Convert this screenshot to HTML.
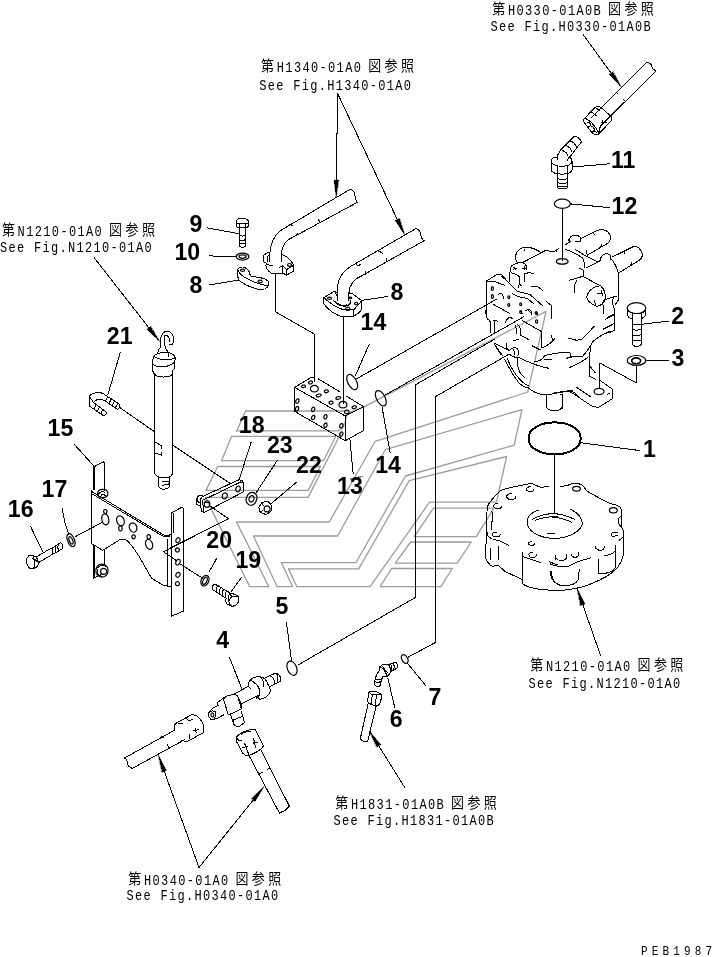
<!DOCTYPE html>
<html lang="ja"><head><meta charset="utf-8"><title>PEB1987</title>
<style>
html,body{margin:0;padding:0;background:#fff;}
body{width:712px;height:957px;overflow:hidden;position:relative;}
svg{display:block;position:absolute;left:0;top:0;will-change:transform;}
.n{font-family:"Liberation Sans",sans-serif;fill:#000;}
.r{font-family:"Liberation Mono","Noto Sans CJK JP",monospace;font-size:12px;fill:#000;}
.c{font-size:13px;}
.p{font-family:"Liberation Mono",monospace;font-size:11px;fill:#000;}
path,ellipse{stroke-linecap:round;stroke-linejoin:round;}
</style></head>
<body>
<svg width="712" height="957" viewBox="0 0 712 957" shape-rendering="crispEdges">
<!-- 05_watermark.py -->
<path d="M236.7,430.9 H337.5 C343,430.5 345.5,424 346,418 C347,414 349,412.5 352,411.5 L363.9,406.9 L400,388.2 L546,311.4 L527.8,392 L375.2,441.3 L329.2,522 H236.5 L268.8,586.7 H249.8 L205.4,497.4 H308.1 L341,433" fill="none" stroke="#9c9c9c" stroke-width="1.3" shape-rendering="geometricPrecision"/>
<path d="M236.7,430.9 L245.5,411 H347" fill="none" stroke="#9c9c9c" stroke-width="1.3" shape-rendering="geometricPrecision"/>
<path d="M231.6,436.3 H335.8 L323.4,460.7 H221.5 Z" fill="none" stroke="#9c9c9c" stroke-width="1.3" shape-rendering="geometricPrecision"/>
<path d="M217.7,466.5 H320.4 L308.2,490.4 H206 Z" fill="none" stroke="#9c9c9c" stroke-width="1.3" shape-rendering="geometricPrecision"/>
<path d="M385.3,449.7 L521.9,409.7 L514.2,445.2 L405.5,476 L355.9,562.7 H281.5 L292.7,586.7 H277.2 L253.4,536 H337.6 Z" fill="none" stroke="#9c9c9c" stroke-width="1.3" shape-rendering="geometricPrecision"/>
<path d="M409.3,480.6 L506.6,456.5 L496.5,502.2 H429.5 L370.1,586.7 H296.9 L288.5,568.9 H358.7 Z" fill="none" stroke="#9c9c9c" stroke-width="1.3" shape-rendering="geometricPrecision"/>
<path d="M433.5,508.1 H494 L476.3,536.6 H414.3 Z" fill="none" stroke="#9c9c9c" stroke-width="1.3" shape-rendering="geometricPrecision"/>
<path d="M410.6,542 H471.2 L457.3,563.2 H395.4 Z" fill="none" stroke="#9c9c9c" stroke-width="1.3" shape-rendering="geometricPrecision"/>
<path d="M391.6,568.5 H452.3 L440.9,586.7 H380.2 Z" fill="none" stroke="#9c9c9c" stroke-width="1.3" shape-rendering="geometricPrecision"/>
<path d="M350.6,479 L361.8,476.6" fill="none" stroke="#8a8aa8" stroke-width="1.6" />
<!-- 10_topright.py -->
<path d="M646.5,62.6L601.2,107.6" fill="none" stroke="#000" stroke-width="1" />
<path d="M655.7,71.1L610.7,116.0" fill="none" stroke="#000" stroke-width="1" />
<path d="M646.5,62.6C650.1,62.9 651.5,64.0 651.9,66.6C652.3,69.0 654.0,69.9 655.7,71.1" fill="none" stroke="#000" stroke-width="1" />
<path d="M616.3,92.4L617.5,93.8" fill="none" stroke="#000" stroke-width="1" />
<path d="M623.4,99.4L624.5,100.8" fill="none" stroke="#000" stroke-width="1" />
<path d="M601.2,107.6L610.7,116.0C612.1,117.4 612.1,119.5 611.0,120.9L598.8,134.0C596.7,135.7 593.2,134.3 591.1,131.5L584.0,122.3C582.9,120.6 583.3,119.5 584.3,118.5L595.3,107.3C597.0,105.9 598.8,105.9 601.2,107.6" fill="none" stroke="#000" stroke-width="1" />
<path d="M601.2,107.6L591.1,118.1M595.3,107.3L599.8,110.7M591.1,111.8L596.7,116.0M595.3,113.9L595.3,116.0" fill="none" stroke="#000" stroke-width="1" />
<path d="M610.7,116.0L600.2,126.5M602.3,120.2L602.3,124.4M601.2,122.3L606.8,122.3M600.2,126.5L598.8,134.0" fill="none" stroke="#000" stroke-width="1" />
<path d="M584.3,118.8C585.7,118.5 588.3,119.5 591.1,122.3C594.6,125.8 598.1,130.1 598.8,134.0" fill="none" stroke="#000" stroke-width="1" />
<path d="M586.9,123.0C588.0,121.6 590.4,123.0 591.1,125.1M589.0,126.5C590.4,125.1 593.2,126.5 594.2,128.7C595.3,130.8 593.9,132.2 592.5,131.5M592.5,131.5C593.2,130.1 595.3,130.8 596.7,132.9" fill="none" stroke="#000" stroke-width="1" />
<path d="M583.3,34.8L619.9,85.3" fill="none" stroke="#000" stroke-width="1"/>
<path d="M621.1,86.9L609.3,74.5L613,71.8Z" fill="#000" stroke="#000" stroke-width="0.5"/>
<path d="M574.7,136.0C577.2,136.8 580.2,139.3 581.4,141.9L570.4,156.2M574.7,136.0L560.3,150.3C557.8,153.7 557.0,156.2 557.0,159.6" fill="none" stroke="#000" stroke-width="1" />
<path d="M570.1,141.0C573.0,141.9 575.2,143.9 576.3,146.6M565.7,145.6C568.4,146.4 570.8,148.6 571.8,151.1M562.0,150.3C564.6,151.1 566.7,152.8 567.9,155.3" fill="none" stroke="#000" stroke-width="1" />
<path d="M570.4,156.2C568.4,157.0 567.4,158.7 567.9,161.2" fill="none" stroke="#000" stroke-width="1" />
<path d="M557.0,157.0C553.6,157.4 551.1,159.0 551.1,161.2L551.1,169.7C551.1,172.2 555.3,174.2 562.0,174.2C567.9,174.2 572.1,172.2 572.1,169.7L572.1,161.2C572.1,159.0 570.4,157.4 568.4,157.0" fill="none" stroke="#000" stroke-width="1" />
<path d="M551.1,161.2C551.1,164.1 555.3,166.3 562.0,166.3C567.9,166.3 572.1,164.1 572.1,161.2" fill="none" stroke="#000" stroke-width="1" />
<path d="M557.8,166.0L557.8,173.9M567.9,165.4L567.9,173.4" fill="none" stroke="#000" stroke-width="1" />
<path d="M557.0,173.9L557.0,186.5C557.0,188.2 559.5,189.0 562.4,189.0C565.4,189.0 567.9,188.2 567.9,186.5L567.9,173.5" fill="none" stroke="#000" stroke-width="1" />
<path d="M557.0,178.1C559.5,179.8 565.4,179.8 567.9,178.1M557.0,182.3C559.5,184.0 565.4,184.0 567.9,182.3M557.0,185.7C559.5,187.4 565.4,187.4 567.9,185.7" fill="none" stroke="#000" stroke-width="1" />
<path d="M572.1,167.1L609.2,163.8" fill="none" stroke="#000" stroke-width="1"/>
<path d="M570.3,203.7A7.9,4.6 0 1 0 554.4,203.7A7.9,4.6 0 1 0 570.3,203.7Z" fill="none" stroke="#000" stroke-width="1.2" shape-rendering="geometricPrecision"/>
<path d="M570.4,203.9L609.2,207.6" fill="none" stroke="#000" stroke-width="1"/>
<path d="M562.4,208.4L562.4,261" fill="none" stroke="#000" stroke-width="1"/>
<!-- 20_motor.py -->
<path d="M568.1,261.4A5.9,2.8 0 1 0 556.3,261.4A5.9,2.8 0 1 0 568.1,261.4Z" fill="none" stroke="#000" stroke-width="1.2" shape-rendering="geometricPrecision"/>
<path d="M517.2,262.1C514.4,257.9 515.1,253.0 520.7,248.1L528.5,247.4C533.4,248.1 537.6,250.2 540.4,252.3M524.9,248.8L524.2,250.9" fill="none" stroke="#000" stroke-width="1" />
<path d="M522.1,262.8L546.0,250.2L553.0,252.0L558.7,248.8M555.1,250.2L557.0,251.6" fill="none" stroke="#000" stroke-width="1" />
<path d="M510.2,268.5C511.6,264.2 517.9,262.1 522.1,262.8C525.6,263.5 527.1,265.6 526.3,269.2M510.2,268.5L509.5,281.8M513.7,267.1L515.8,269.9M513.0,269.2L516.8,268.5M522.1,268.5L525.6,268.5M524.7,266.3L524.7,269.4" fill="none" stroke="#000" stroke-width="1" />
<path d="M511.6,272.7L518.6,275.5L520.0,279.0L518.6,287.4M519.3,283.9L521.4,286.0" fill="none" stroke="#000" stroke-width="1" />
<path d="M524.2,281.8L524.2,274.1L528.5,272.7L533.4,273.4M531.3,286.0L537.6,286.7L542.5,290.2" fill="none" stroke="#000" stroke-width="1" />
<path d="M486.3,281.1L497.6,274.1L501.8,274.8L505.3,278.3M486.3,281.1L486.3,316.9L488.4,320.0M486.3,281.1L495.4,281.8L504.6,285.3" fill="none" stroke="#000" stroke-width="1" />
<path d="M501.8,276.2L517.9,291.6L529.9,294.4L542.5,305.7M512.3,293.7L517.9,296.5L527.8,298.7L533.4,303.6M546.0,301.2L551.6,305.7L551.6,318.3" fill="none" stroke="#000" stroke-width="1" />
<path d="M493.3,288.5A1,1.4 0 1 0 491.4,288.5A1,1.4 0 1 0 493.3,288.5Z" fill="none" stroke="#000" stroke-width="1.2" shape-rendering="geometricPrecision"/>
<path d="M493.3,296.5A1,1.4 0 1 0 491.4,296.5A1,1.4 0 1 0 493.3,296.5Z" fill="none" stroke="#000" stroke-width="1.2" shape-rendering="geometricPrecision"/>
<path d="M509.8,297.2A1,1.4 0 1 0 507.8,297.2A1,1.4 0 1 0 509.8,297.2Z" fill="none" stroke="#000" stroke-width="1.2" shape-rendering="geometricPrecision"/>
<path d="M509.8,305A1,1.4 0 1 0 507.8,305A1,1.4 0 1 0 509.8,305Z" fill="none" stroke="#000" stroke-width="1.2" shape-rendering="geometricPrecision"/>
<path d="M521.7,304.3A1,1.4 0 1 0 519.7,304.3A1,1.4 0 1 0 521.7,304.3Z" fill="none" stroke="#000" stroke-width="1.2" shape-rendering="geometricPrecision"/>
<path d="M521.7,312A1,1.4 0 1 0 519.7,312A1,1.4 0 1 0 521.7,312Z" fill="none" stroke="#000" stroke-width="1.2" shape-rendering="geometricPrecision"/>
<path d="M537.2,313A1,1.4 0 1 0 535.2,313A1,1.4 0 1 0 537.2,313Z" fill="none" stroke="#000" stroke-width="1.2" shape-rendering="geometricPrecision"/>
<path d="M498.3,294.4C500.4,292.3 503.9,293.7 503.2,298.7M525.6,311.0C528.5,308.5 532.0,309.9 531.3,314.4M507.4,318.3C508.8,316.9 510.9,316.9 512.3,318.3" fill="none" stroke="#000" stroke-width="1" />
<path d="M493.3,304.3L509.5,313.4" fill="none" stroke="#000" stroke-width="1" />
<path d="M581.1,238.3L597.2,230.5C602.1,228.4 607.8,229.8 610.3,235.4C611.3,239.0 609.9,241.8 607.1,243.6L587.4,255.1M593.7,233.3L595.1,235.2M601.4,244.6L600.7,246.7M586.0,250.2L587.4,255.1L588.1,256.8" fill="none" stroke="#000" stroke-width="1" />
<path d="M569.1,241.1C568.4,237.6 571.9,234.7 576.2,235.2C579.7,235.7 581.3,238.3 580.8,241.8M565.6,244.6L570.5,241.1M568.4,239.7L570.1,243.2M575.4,241.1L580.8,241.8" fill="none" stroke="#000" stroke-width="1" />
<path d="M565.6,249.5C571.2,250.9 576.9,254.4 582.5,257.9L584.2,262.1L584.2,267.8M575.4,249.5L583.2,254.4L596.5,261.4" fill="none" stroke="#000" stroke-width="1" />
<path d="M612.0,257.2L633.0,246.7C637.2,245.3 640.8,248.8 642.2,253.7C642.6,256.8 640.8,259.3 638.7,260.7L619.0,272.7M623.9,251.6L624.9,253.4M631.6,262.8L630.9,264.9" fill="none" stroke="#000" stroke-width="1" />
<path d="M586.7,267.8L600.0,260.7C600.7,256.5 603.5,253.7 607.1,253.7C609.9,254.0 611.3,255.8 610.8,259.3L612.7,260.7C615.5,264.9 617.6,268.5 618.3,272.7L618.3,300.1L615.5,304.3" fill="none" stroke="#000" stroke-width="1" />
<path d="M579.7,268.5L583.2,269.9L583.2,276.2L569.1,280.4M582.5,276.2L600.7,286.0M576.9,280.4C574.7,283.2 574.0,287.4 574.3,292.3" fill="none" stroke="#000" stroke-width="1" />
<path d="M600.7,286.0C595.1,285.3 588.1,290.2 586.7,297.2C587.4,300.8 591.6,304.3 597.2,306.4L602.1,304.3C604.9,301.5 606.3,297.2 604.9,293.0C604.2,289.5 602.8,287.4 600.7,286.0M597.2,293.0L602.1,293.7M601.4,290.9L602.8,295.8M594.4,300.8L595.8,305.0" fill="none" stroke="#000" stroke-width="1" />
<path d="M602.1,304.3L604.2,300.1L614.1,296.5L616.9,296.5M614.1,296.5C612.0,300.1 612.0,304.3 614.1,307.8L614.8,313.4L606.3,318.3M603.5,305.7L603.5,313.4M614.8,313.4L614.8,320.0" fill="none" stroke="#000" stroke-width="1" />
<path d="M485.6,310.0L486.3,317.0L490.5,321.9L490.5,332.5M494.0,320.5L494.0,333.9M494.0,320.5L497.6,321.2M505.3,322.6C506.0,318.4 509.5,317.0 512.3,318.4" fill="none" stroke="#000" stroke-width="1" />
<path d="M520.0,310.7L522.1,313.5M527.8,310.0L532.0,313.5M535.5,312.1L537.6,314.2" fill="none" stroke="#000" stroke-width="1" />
<path d="M537.7,321.5A1.1,1.7 0 1 0 535.5,321.5A1.1,1.7 0 1 0 537.7,321.5Z" fill="none" stroke="#000" stroke-width="1.2" shape-rendering="geometricPrecision"/>
<path d="M522.1,320.5L541.8,331.8L541.8,347.9M551.6,310.0L551.6,318.4" fill="none" stroke="#000" stroke-width="1" />
<path d="M517.2,324.0C520.0,326.9 521.4,331.1 520.7,334.6M515.1,325.4C516.8,328.3 517.2,331.1 516.8,333.2M520.0,335.3L524.9,337.4L528.5,339.5M513.7,340.2L518.6,339.8" fill="none" stroke="#000" stroke-width="1" />
<path d="M532.0,345.8L540.4,350.0M541.8,347.9C547.4,345.8 551.6,343.0 555.1,338.1M551.6,335.3L552.3,340.2" fill="none" stroke="#000" stroke-width="1" />
<path d="M494.0,343.0L509.5,350.7M494.0,343.7L501.1,354.9M495.4,345.8L502.5,355.6" fill="none" stroke="#000" stroke-width="1" />
<path d="M506.7,343.7C505.3,346.5 506.7,349.3 509.5,350.7C510.9,347.9 515.1,346.5 517.2,348.6C518.6,350.7 518.6,353.5 517.9,355.6M513.0,349.3C514.4,351.4 514.8,353.5 514.4,354.9" fill="none" stroke="#000" stroke-width="1" />
<path d="M509.5,354.2C512.3,357.1 515.1,357.8 517.9,357.1L517.9,366.2C518.6,370.4 520.7,374.6 524.2,377.4M517.9,357.1C524.9,360.6 536.2,366.2 548.8,368.3" fill="none" stroke="#000" stroke-width="1" />
<path d="M504.6,359.2C508.1,366.2 513.7,376.0 517.9,381.6C520.7,385.1 524.9,387.2 528.5,387.9M507.4,358.5C510.2,366.2 515.1,374.6 520.7,380.2C523.5,383.0 526.3,385.1 528.5,385.8" fill="none" stroke="#000" stroke-width="1" />
<path d="M528.5,387.9C533.4,392.9 539.0,394.3 546.0,395.0L569.9,390.8C572.7,391.2 576.9,394.3 580.0,397.8M554.4,392.9L572.7,390.1" fill="none" stroke="#000" stroke-width="1" />
<path d="M534.1,362.0C539.0,361.3 543.2,359.2 544.6,355.6C553.0,353.5 564.3,352.1 569.9,352.8L571.3,356.3L566.4,358.5M544.6,359.2L551.6,359.2" fill="none" stroke="#000" stroke-width="1" />
<path d="M603.5,310.0L603.5,313.5M614.8,310.0L614.8,329.7L612.0,331.8L606.3,333.2M605.6,319.1L614.1,314.9M603.5,329.0L614.8,323.3" fill="none" stroke="#000" stroke-width="1" />
<path d="M594.4,326.2C589.5,331.1 585.3,336.7 581.1,339.5L576.2,340.2L568.4,338.1" fill="none" stroke="#000" stroke-width="1" />
<path d="M610.6,331.1C603.5,333.9 596.5,338.1 593.0,341.6C590.2,346.5 586.7,352.1 582.5,356.3L570.5,357.1" fill="none" stroke="#000" stroke-width="1" />
<path d="M569.1,367.6C576.9,364.8 583.9,360.6 588.1,357.1M590.9,346.5L589.2,356.3L589.2,376.0L595.8,379.5M589.8,366.2L595.1,372.5" fill="none" stroke="#000" stroke-width="1" />
<path d="M645.8,308.1A9.3,5.4 0 1 0 627.2,308.1A9.3,5.4 0 1 0 645.8,308.1Z" fill="none" stroke="#000" stroke-width="1.2" shape-rendering="geometricPrecision"/>
<path d="M627.2,308.1L627.2,315.2C629.0,317.8 631.6,319.1 632.9,319.1M645.8,308.1L645.8,315.2C644.6,317.1 642.6,318.2 641.3,318.7M632.9,313.0L641.3,313.0M632.9,313.0L632.9,319.1M641.3,313.0L641.3,318.7M627.2,309.4C629.0,312.0 631.6,313.0 632.9,313.0M641.3,313.0C643.3,312.6 644.8,311.3 645.8,309.4" fill="none" stroke="#000" stroke-width="1" />
<path d="M632.5,319.1L632.5,344.3C633.6,347.1 640.0,347.1 641.3,344.3L641.3,318.7" fill="none" stroke="#000" stroke-width="1" />
<path d="M632.5,323.9C634.2,325.4 639.4,325.4 641.3,323.9" fill="none" stroke="#000" stroke-width="1" />
<path d="M632.5,329.0C634.2,330.6 639.4,330.6 641.3,329.0" fill="none" stroke="#000" stroke-width="1" />
<path d="M632.5,334.6C634.2,336.1 639.4,336.1 641.3,334.6" fill="none" stroke="#000" stroke-width="1" />
<path d="M632.5,339.7C634.2,341.3 639.4,341.3 641.3,339.7" fill="none" stroke="#000" stroke-width="1" />
<path d="M642,324.2L669.1,321" fill="none" stroke="#000" stroke-width="1"/>
<path d="M645.8,360.4A9.3,4.9 0 1 0 627.2,360.4A9.3,4.9 0 1 0 645.8,360.4Z" fill="none" stroke="#000" stroke-width="1.2" shape-rendering="geometricPrecision"/>
<path d="M640.5,360.8A4.4,2.5 0 1 0 631.8,360.8A4.4,2.5 0 1 0 640.5,360.8Z" fill="none" stroke="#000" stroke-width="1.6" shape-rendering="geometricPrecision"/>
<path d="M645.8,360.4L669.1,360.8" fill="none" stroke="#000" stroke-width="1"/>
<path d="M636.5,365.5L636.5,383.0L600.0,363.1L599.3,387.2" fill="none" stroke="#000" stroke-width="1" />
<path d="M600.7,380.9L612.7,389.4L612.7,398.5L599.3,406.9C596.5,407.6 593.7,406.9 590.9,405.5L573.3,393.6L569.1,391.2L560.0,392.2M560.0,394.3L562.8,394.3L562.8,408.3M576.2,387.2L590.2,396.4M607.1,394.3L609.9,392.9" fill="none" stroke="#000" stroke-width="1" />
<path d="M604,391.5A4.9,3.1 0 1 0 594.1,391.5A4.9,3.1 0 1 0 604,391.5Z" fill="none" stroke="#000" stroke-width="1.2" shape-rendering="geometricPrecision"/>
<!-- 25_gear.py -->
<path d="M546.2,394.6L546.2,406.4C548.2,412.3 560.0,412.3 562.5,406.4L562.5,394.6" fill="none" stroke="#000" stroke-width="1" />
<path d="M580.6,438.4A26,15.1 0 1 0 528.7,438.4A26,15.1 0 1 0 580.6,438.4Z" fill="none" stroke="#000" stroke-width="2"/>
<path d="M581,442.8L640,450.6" fill="none" stroke="#000" stroke-width="1"/>
<path d="M554.6,454.5L554.6,513.2" fill="none" stroke="#000" stroke-width="1"/>
<path d="M487.1,507.0C489.8,501.1 496.3,494.6 500.2,490.7C508.0,487.4 521.1,485.4 530.2,483.5C534.2,483.5 536.8,486.1 540.7,487.4L548.5,486.5" fill="none" stroke="#000" stroke-width="1" />
<path d="M487.1,507.0L486.5,536.4L485.2,556.0C485.8,559.9 489.1,565.1 492.4,566.4L497.6,565.1C500.2,566.4 502.8,569.7 505.4,571.7L522.4,579.5" fill="none" stroke="#000" stroke-width="1" />
<path d="M522.4,552.7L522.4,583.4C526.3,587.3 536.8,589.9 557.9,590.6M522.4,556.6L540.7,562.5M549.8,561.9L557.9,565.1M550.5,571.0C550.5,578.2 552.5,582.1 557.9,584.1M555.7,555.3L555.7,559.9" fill="none" stroke="#000" stroke-width="1" />
<path d="M533.9,489.1C533.9,490.4 532.2,491.5 530.2,491.5C528.3,491.5 526.6,490.4 526.6,489.1C526.6,487.8 528.3,486.8 530.2,486.8" fill="none" stroke="#000" stroke-width="1" />
<path d="M515.9,496.6C515.9,498.1 513.9,499.4 511.3,499.4C508.7,499.4 506.7,498.1 506.7,496.6C506.7,495.0 508.7,493.7 511.3,493.7" fill="none" stroke="#000" stroke-width="1" />
<path d="M501.5,506.1C501.5,507.5 499.8,508.7 497.6,508.7C495.4,508.7 493.7,507.5 493.7,506.1C493.7,504.6 495.4,503.5 497.6,503.5" fill="none" stroke="#000" stroke-width="1" />
<path d="M500.2,534.4C500.2,535.7 498.5,536.8 496.3,536.8C494.1,536.8 492.4,535.7 492.4,534.4C492.4,533.1 494.1,532.1 496.3,532.1" fill="none" stroke="#000" stroke-width="1" />
<path d="M534.4,543.6C534.4,544.6 533.1,545.4 531.6,545.4C530.0,545.4 528.7,544.6 528.7,543.6C528.7,542.5 530.0,541.7 531.6,541.7" fill="none" stroke="#000" stroke-width="1" />
<path d="M536.3,554.9C536.3,556.4 534.6,557.5 532.6,557.5C530.6,557.5 528.9,556.4 528.9,554.9C528.9,553.5 530.6,552.3 532.6,552.3" fill="none" stroke="#000" stroke-width="1" />
<path d="M491.1,510.9C493.0,512.9 493.0,515.5 492.4,518.1L491.1,529.9M487.8,532.5C487.1,535.1 488.4,537.7 491.1,538.3M493.7,539.7L498.9,540.3L508.7,545.5M490.4,548.1L490.4,559.9M498.9,546.2L498.2,559.9" fill="none" stroke="#000" stroke-width="1" />
<path d="M538.1,510.3C530.2,512.9 526.3,518.1 527.6,524.6C528.9,529.9 535.5,535.1 545.9,537.7L557.9,539.0M532.2,519.4C538.1,515.5 548.5,513.5 557.9,513.1M535.5,520.1C542.0,517.5 551.1,516.5 557.9,516.5M547.2,533.1L553.8,533.1" fill="none" stroke="#000" stroke-width="1" />
<path d="M560.4,486.5L567.0,485.7C570.9,482.8 578.7,482.8 582.7,485.4C584.6,488.1 585.9,490.7 589.2,492.6L608.8,503.1C612.7,504.4 617.9,504.4 620.5,507.7C621.8,510.3 622.5,512.9 621.2,515.5C617.9,518.1 617.3,520.7 619.2,524.6C621.8,527.2 624.5,529.9 623.8,533.8L623.1,539.0L623.1,556.0C621.8,563.8 615.3,570.4 611.4,573.0C604.9,578.2 593.1,583.4 581.3,587.3C570.9,589.9 560.4,591.0 550.0,590.6" fill="none" stroke="#000" stroke-width="1" />
<path d="M621.2,515.5L621.8,525.9M619.2,540.3L623.1,537.0" fill="none" stroke="#000" stroke-width="1" />
<path d="M580.4,488.7A3.9,2.4 0 1 0 572.6,488.7A3.9,2.4 0 1 0 580.4,488.7Z" fill="none" stroke="#000" stroke-width="1.2" shape-rendering="geometricPrecision"/>
<path d="M617.3,510.3A3.9,2.6 0 1 0 609.4,510.3A3.9,2.6 0 1 0 617.3,510.3Z" fill="none" stroke="#000" stroke-width="1.2" shape-rendering="geometricPrecision"/>
<path d="M595.1,546.6C595.7,549.5 599.0,550.8 601.6,550.1C603.6,549.5 604.9,547.9 604.2,546.2" fill="none" stroke="#000" stroke-width="1" />
<path d="M571.2,554.0C571.6,556.6 574.2,557.9 576.1,557.3C578.1,556.6 579.0,554.7 578.1,552.7" fill="none" stroke="#000" stroke-width="1" />
<path d="M555.2,556.0C555.9,559.2 559.1,560.9 562.4,560.6C565.7,559.9 567.6,557.3 566.7,554.0" fill="none" stroke="#000" stroke-width="1" />
<path d="M570.2,509.2C576.1,511.6 581.3,516.8 582.4,523.3C581.3,529.9 573.5,535.7 560.4,538.0L550.0,538.7M550.0,513.5C559.1,513.5 568.3,516.1 574.8,519.4M550.0,516.8C557.8,517.1 565.7,519.4 571.6,522.3M550.0,533.1L554.6,533.1" fill="none" stroke="#000" stroke-width="1" />
<path d="M611.4,533.1L617.9,532.5M611.4,533.1L612.0,536.4L617.9,535.7" fill="none" stroke="#000" stroke-width="1" />
<path d="M550.0,563.8C555.2,566.4 563.1,567.7 568.3,566.4C573.5,563.8 577.4,561.2 581.3,560.6L590.5,557.9" fill="none" stroke="#000" stroke-width="1" />
<path d="M551.3,571.0C551.3,578.2 553.9,583.4 560.4,585.4C568.3,586.0 576.1,584.7 578.1,579.5L579.4,569.0" fill="none" stroke="#000" stroke-width="1" />
<path d="M598.3,559.9L598.3,573.0C602.2,574.3 608.8,573.0 612.7,571.0L615.3,567.7L615.3,545.5M604.2,556.0C608.8,555.3 612.7,553.4 614.7,551.4" fill="none" stroke="#000" stroke-width="1" />
<path d="M600.6,655.7L577.9,590.7" fill="none" stroke="#000" stroke-width="1"/>
<path d="M577.2,588.8L585,604.1L580.6,605.6Z" fill="#000" stroke="#000" stroke-width="0.5"/>
<!-- 30_pipes.py -->
<path d="M236.2,221.8C236.9,219.0 240.4,218.0 243.3,218.3C246.8,218.5 248.6,220.4 248.6,222.5L248.6,226.0C247.5,227.4 246.1,227.8 245.4,227.8L239.0,227.8C237.6,227.4 236.5,226.7 236.2,226.0ZM239.0,223.9L239.0,227.8M245.4,223.9L245.4,227.8M239.0,223.9L245.4,223.9M236.2,222.2C237.6,223.6 238.3,223.9 239.0,223.9M245.4,223.9C246.8,223.6 247.8,223.2 248.6,222.5" fill="none" stroke="#000" stroke-width="1" />
<path d="M239.0,227.8L239.0,245.6C240.4,247.8 244.7,247.8 245.8,245.6L245.8,227.8" fill="none" stroke="#000" stroke-width="1" />
<path d="M239.0,235.1C240.4,236.4 244.7,236.4 245.8,235.1" fill="none" stroke="#000" stroke-width="1" />
<path d="M239.0,239.3C240.4,240.6 244.7,240.6 245.8,239.3" fill="none" stroke="#000" stroke-width="1" />
<path d="M239.0,242.8C240.4,244.1 244.7,244.1 245.8,242.8" fill="none" stroke="#000" stroke-width="1" />
<path d="M207,227.9L239,233.7" fill="none" stroke="#000" stroke-width="1"/>
<path d="M248.9,256.6A6.3,3.5 0 1 0 236.2,256.6A6.3,3.5 0 1 0 248.9,256.6Z" fill="none" stroke="#000" stroke-width="1.2" shape-rendering="geometricPrecision"/>
<path d="M246.1,256.6A3.5,1.7 0 1 0 239,256.6A3.5,1.7 0 1 0 246.1,256.6Z" fill="none" stroke="#000" stroke-width="1.2" shape-rendering="geometricPrecision"/>
<path d="M209.3,255.9L236.2,256.6" fill="none" stroke="#000" stroke-width="1"/>
<path d="M237.6,270.2C238.3,268.1 241.2,266.7 244.0,267.1C247.5,268.8 249.6,270.9 250.3,275.8C254.5,277.2 261.5,277.2 265.7,279.4L268.5,281.5L268.5,285.7C267.1,288.5 262.9,289.9 259.4,289.6C251.7,287.8 243.3,284.3 239.0,280.1L237.6,276.5Z" fill="none" stroke="#000" stroke-width="1" />
<path d="M238.3,270.9C240.4,276.5 253.1,282.9 267.8,286.0M247.5,269.5L249.6,272.3L250.3,275.8" fill="none" stroke="#000" stroke-width="1" />
<path d="M244.7,270.2A2.1,1.1 0 1 0 240.4,270.2A2.1,1.1 0 1 0 244.7,270.2Z" fill="none" stroke="#000" stroke-width="1.2" shape-rendering="geometricPrecision"/>
<path d="M262.2,281.5A2.1,1.4 0 1 0 258,281.5A2.1,1.4 0 1 0 262.2,281.5Z" fill="none" stroke="#000" stroke-width="1.2" shape-rendering="geometricPrecision"/>
<path d="M209.3,285L238.3,280.1" fill="none" stroke="#000" stroke-width="1"/>
<path d="M350.0,189.3L281.2,230.2C274.2,235.1 269.9,244.9 269.9,253.4L269.9,261.8" fill="none" stroke="#000" stroke-width="1" />
<path d="M357.2,202.4L293.8,236.8C286.8,239.3 281.9,244.9 281.2,254.1L281.2,261.8" fill="none" stroke="#000" stroke-width="1" />
<path d="M350.0,189.3C353.5,190.2 354.9,193.0 354.9,195.8C354.9,199.3 356.3,201.1 357.2,202.4" fill="none" stroke="#000" stroke-width="1" />
<path d="M289.6,224.6L292.4,225.3L291.0,223.9M296.6,234.4L298.0,233.7M318.4,219.7C319.8,221.1 319.8,222.5 318.8,223.6" fill="none" stroke="#000" stroke-width="1" />
<path d="M263.6,255.5L267.8,252.2L269.9,252.7M263.6,255.5L263.6,261.8L266.4,263.2M267.8,256.2L269.9,254.1M267.8,256.2L267.8,261.8" fill="none" stroke="#000" stroke-width="1" />
<path d="M266.4,263.2C265.0,266.0 266.4,270.2 271.3,273.0L282.6,273.0M282.6,266.0L282.6,273.0L286.8,275.1L293.8,270.9L293.8,265.3C291.0,260.4 286.8,256.2 282.6,254.8M279.1,267.4L282.6,266.0M286.8,269.5L286.8,275.1M286.8,269.5L293.8,265.3M282.6,266.0L286.8,269.5M267.1,263.9C268.5,265.3 269.9,265.7 272.1,265.7" fill="none" stroke="#000" stroke-width="1" />
<path d="M291.7,264.9A2.1,1.4 0 1 0 287.5,264.9A2.1,1.4 0 1 0 291.7,264.9Z" fill="none" stroke="#000" stroke-width="1.2" shape-rendering="geometricPrecision"/>
<path d="M275.3,273.0L275.3,311.7L314.5,334.1L314.5,381.2" fill="none" stroke="#000" stroke-width="1" />
<path d="M415.9,228.6L356.2,263.2C346.3,268.1 337.9,276.5 337.6,287.8L337.6,300.4" fill="none" stroke="#000" stroke-width="1" />
<path d="M424.3,240.6L361.8,275.8C353.4,279.3 349.2,284.9 348.9,293.4L348.9,300.4" fill="none" stroke="#000" stroke-width="1" />
<path d="M415.9,228.6C419.4,229.5 420.8,232.3 420.8,235.1C421.1,237.9 422.9,240.0 424.3,240.6" fill="none" stroke="#000" stroke-width="1" />
<path d="M356.2,263.2L357.6,266.0L360.4,264.6M378.7,251.2C380.8,251.9 382.2,252.6 382.9,254.0M386.4,258.3L386.4,261.8M365.3,271.6L365.3,274.4" fill="none" stroke="#000" stroke-width="1" />
<path d="M323.9,297.6L334.4,291.3L336.8,292.2M348.9,293.1L352.0,293.4L361.8,300.7L361.8,306.7L361.1,310.2M323.9,297.6L323.9,303.9C328.1,310.2 336.5,315.8 343.5,317.0L353.4,316.5L357.6,313.7L361.1,310.2" fill="none" stroke="#000" stroke-width="1" />
<path d="M323.9,297.6C325.3,299.0 326.7,300.4 328.1,301.1C333.7,306.0 340.7,309.5 346.3,309.9L354.1,309.5L361.8,300.7M354.1,309.5L353.4,316.5" fill="none" stroke="#000" stroke-width="1" />
<path d="M333.7,300.4C335.1,303.9 340.7,306.7 346.3,306.0C349.2,305.3 351.3,303.2 350.6,300.4M335.8,301.8C337.9,304.3 342.1,305.7 346.3,304.9M335.1,292.7L336.8,295.5" fill="none" stroke="#000" stroke-width="1" />
<path d="M331.5,298.3A2,1.1 0 1 0 327.5,298.3A2,1.1 0 1 0 331.5,298.3Z" fill="none" stroke="#000" stroke-width="1.2" shape-rendering="geometricPrecision"/>
<path d="M349.7,308.8A2,1.4 0 1 0 345.8,308.8A2,1.4 0 1 0 349.7,308.8Z" fill="none" stroke="#000" stroke-width="1.2" shape-rendering="geometricPrecision"/>
<path d="M357.9,303.5A1.7,1.1 0 1 0 354.5,303.5A1.7,1.1 0 1 0 357.9,303.5Z" fill="none" stroke="#000" stroke-width="1.2" shape-rendering="geometricPrecision"/>
<path d="M351.7,297.9A1.4,0.8 0 1 0 348.9,297.9A1.4,0.8 0 1 0 351.7,297.9Z" fill="none" stroke="#000" stroke-width="1.2" shape-rendering="geometricPrecision"/>
<path d="M361.8,300.4L387.8,296.5" fill="none" stroke="#000" stroke-width="1"/>
<path d="M343.8,317.0L343.8,403.6" fill="none" stroke="#000" stroke-width="1" />
<path d="M337.6,93.5L336.1,195.2" fill="none" stroke="#000" stroke-width="1"/>
<path d="M336.1,197.2L334,180.2L338.6,180.2Z" fill="#000" stroke="#000" stroke-width="0.5"/>
<path d="M337.6,93.5L403.7,233" fill="none" stroke="#000" stroke-width="1"/>
<path d="M404.6,234.8L395.2,220.4L399.4,218.5Z" fill="#000" stroke="#000" stroke-width="0.5"/>
<!-- 40_block.py -->
<path d="M294.6,387.4L310.5,377.9L313.6,377.4M318.2,378.9L339.8,391.8M346.0,395.9L363.8,406.8M294.6,387.4L345.3,416.0L363.8,406.8" fill="none" stroke="#000" stroke-width="1" />
<path d="M294.6,387.4L294.6,411.4L345.3,440.7L345.3,416.0M363.8,406.8L363.8,430.4L345.3,440.7" fill="none" stroke="#000" stroke-width="1" />
<path d="M318.2,388.7A3.9,2.8 0 1 0 310.5,388.7A3.9,2.8 0 1 0 318.2,388.7Z" fill="none" stroke="#000" stroke-width="1.2" shape-rendering="geometricPrecision"/>
<path d="M346.8,404.7A3.9,2.8 0 1 0 339.1,404.7A3.9,2.8 0 1 0 346.8,404.7Z" fill="none" stroke="#000" stroke-width="1.2" shape-rendering="geometricPrecision"/>
<path d="M305.5,385.8A2,1.2 -15 1 0 301.6,386.9A2,1.2 -15 1 0 305.5,385.8Z" fill="none" stroke="#000" stroke-width="1.2" shape-rendering="geometricPrecision"/>
<path d="M312.4,382A2,1.2 -15 1 0 308.6,383A2,1.2 -15 1 0 312.4,382Z" fill="none" stroke="#000" stroke-width="1.2" shape-rendering="geometricPrecision"/>
<path d="M328.3,390.8A2,1.2 -15 1 0 324.5,391.8A2,1.2 -15 1 0 328.3,390.8Z" fill="none" stroke="#000" stroke-width="1.2" shape-rendering="geometricPrecision"/>
<path d="M321.1,394.8A2.5,1.2 -15 1 0 316.3,396.1A2.5,1.2 -15 1 0 321.1,394.8Z" fill="none" stroke="#000" stroke-width="1.2" shape-rendering="geometricPrecision"/>
<path d="M340.7,397.3A2.5,1.2 -15 1 0 335.9,398.6A2.5,1.2 -15 1 0 340.7,397.3Z" fill="none" stroke="#000" stroke-width="1.2" shape-rendering="geometricPrecision"/>
<path d="M333,402.1A2,1.5 -15 1 0 329.1,403.1A2,1.5 -15 1 0 333,402.1Z" fill="none" stroke="#000" stroke-width="1.2" shape-rendering="geometricPrecision"/>
<path d="M356.3,406.7A2.2,1.2 -15 1 0 352.1,407.8A2.2,1.2 -15 1 0 356.3,406.7Z" fill="none" stroke="#000" stroke-width="1.2" shape-rendering="geometricPrecision"/>
<path d="M348.9,411.3A2.2,1.5 -15 1 0 344.7,412.4A2.2,1.5 -15 1 0 348.9,411.3Z" fill="none" stroke="#000" stroke-width="1.2" shape-rendering="geometricPrecision"/>
<path d="M298.8,401.6A1.5,2.2 20 1 0 295.9,400.5A1.5,2.2 20 1 0 298.8,401.6Z" fill="none" stroke="#000" stroke-width="1.2" shape-rendering="geometricPrecision"/>
<path d="M298.5,409.3A1.5,2.2 20 1 0 295.6,408.2A1.5,2.2 20 1 0 298.5,409.3Z" fill="none" stroke="#000" stroke-width="1.2" shape-rendering="geometricPrecision"/>
<path d="M314.6,409.9A1.5,2.2 20 1 0 311.7,408.9A1.5,2.2 20 1 0 314.6,409.9Z" fill="none" stroke="#000" stroke-width="1.2" shape-rendering="geometricPrecision"/>
<path d="M314.6,418.1A1.5,2.2 20 1 0 311.7,417A1.5,2.2 20 1 0 314.6,418.1Z" fill="none" stroke="#000" stroke-width="1.2" shape-rendering="geometricPrecision"/>
<path d="M326.9,417.3A1.5,2.2 20 1 0 324,416.3A1.5,2.2 20 1 0 326.9,417.3Z" fill="none" stroke="#000" stroke-width="1.2" shape-rendering="geometricPrecision"/>
<path d="M326.9,425.8A1.5,2.2 20 1 0 324,424.8A1.5,2.2 20 1 0 326.9,425.8Z" fill="none" stroke="#000" stroke-width="1.2" shape-rendering="geometricPrecision"/>
<path d="M342.8,426.3A1.5,2.2 20 1 0 339.9,425.2A1.5,2.2 20 1 0 342.8,426.3Z" fill="none" stroke="#000" stroke-width="1.2" shape-rendering="geometricPrecision"/>
<path d="M342.8,434.6A1.5,2.2 20 1 0 339.9,433.6A1.5,2.2 20 1 0 342.8,434.6Z" fill="none" stroke="#000" stroke-width="1.2" shape-rendering="geometricPrecision"/>
<path d="M356,380A4.3,8.3 -28 1 0 348.4,384.1A4.3,8.3 -28 1 0 356,380Z" fill="none" stroke="#000" stroke-width="1.2" shape-rendering="geometricPrecision"/>
<path d="M384.6,396.2A4.3,8.3 -28 1 0 377,400.3A4.3,8.3 -28 1 0 384.6,396.2Z" fill="none" stroke="#000" stroke-width="1.2" shape-rendering="geometricPrecision"/>
<path d="M355.3,375.9L369.2,344.2" fill="none" stroke="#000" stroke-width="1"/>
<path d="M382,406.8L390.1,452.3" fill="none" stroke="#000" stroke-width="1"/>
<path d="M349.9,439.2L353.1,473.2" fill="none" stroke="#000" stroke-width="1"/>
<path d="M356.7,378.8L496.9,299.0" fill="none" stroke="#000" stroke-width="1" />
<path d="M385.3,395.0L523.9,316.7" fill="none" stroke="#000" stroke-width="1" />
<path d="M494.4,339.3L415.3,384.9L415.3,597.5L297.8,665.1" fill="none" stroke="#000" stroke-width="1" />
<path d="M509.1,354.1L435.4,396.7L435.4,642.5L408.3,657.1" fill="none" stroke="#000" stroke-width="1" />
<!-- 50_cyl.py -->
<path d="M160.6,341.9C160.1,335.2 163.4,331.0 167.6,331.0C171.9,331.5 174.4,336.0 173.5,341.9C172.7,344.4 171.0,345.3 169.3,344.9M164.3,336.0C166.8,334.3 170.2,336.9 169.3,341.1M164.3,336.0L165.1,347.8M160.6,341.9L160.6,347.0C158.4,349.5 157.5,351.2 157.5,353.7M165.1,347.8C167.6,350.3 168.5,352.9 168.5,356.2" fill="none" stroke="#000" stroke-width="1" />
<path d="M154.2,356.2C155.8,352.9 164.3,352.0 169.3,352.9C173.5,353.7 175.2,356.2 175.2,359.6L174.4,362.1C175.2,365.5 174.4,368.9 172.7,370.6L172.7,373.9M154.2,356.2C152.5,358.8 152.1,361.3 152.8,363.8C151.6,367.2 152.1,370.6 154.2,373.9M152.8,363.8C155.8,368.0 169.3,368.0 174.4,362.1M154.2,373.9C157.5,378.1 169.3,378.1 172.7,373.9M154.2,356.2C157.5,360.4 171.0,360.4 175.2,357.9" fill="none" stroke="#000" stroke-width="1" />
<path d="M94.1,257.6L158.1,339.6" fill="none" stroke="#000" stroke-width="1"/>
<path d="M159.3,341.2L147,329.2L150.7,326.4Z" fill="#000" stroke="#000" stroke-width="0.5"/>
<path d="M89.3,396.7C90.1,393.3 96.9,391.6 102.8,393.3L107.8,396.7L119.6,404.3C120.4,406.0 119.6,408.5 117.1,409.3L105.3,400.9C100.2,398.4 96.0,399.2 93.5,402.6L106.1,411.9C107.0,413.5 105.3,415.7 102.8,415.2L89.3,406.0Z" fill="none" stroke="#000" stroke-width="1" />
<path d="M107.8,396.7L105.3,400.9M111.2,399.2L109.0,403.4M114.6,401.2L112.4,405.6M117.9,403.4L115.4,407.6M96.0,405.1L94.3,408.5M99.4,407.3L97.7,411.0M102.8,409.3L101.1,413.5M89.3,396.7C91.0,398.4 92.6,400.6 93.5,402.6" fill="none" stroke="#000" stroke-width="1" />
<path d="M120.4,352L107.8,395" fill="none" stroke="#000" stroke-width="1"/>
<path d="M154.7,373.9L154.7,473.4C155.6,475.5 157.8,476.9 159.2,477.3M172.8,373.9L172.8,472.7C171.8,475.5 170.4,476.9 169.0,477.3" fill="none" stroke="#000" stroke-width="1" />
<path d="M158.5,477.3L158.5,486.0C159.9,490.2 167.6,490.2 169.7,486.0L169.7,477.3M158.5,477.3L169.7,477.3M162.7,481.8L169.0,481.1M162.7,485.3L169.0,483.9" fill="none" stroke="#000" stroke-width="1" />
<path d="M154.7,441.8L162.0,446.0L161.7,448.1M154.7,453.0L161.3,455.1L161.7,452.3" fill="none" stroke="#000" stroke-width="1" />
<path d="M119.8,407.6L154.7,431.9M172.8,445.3L230.8,483.9" fill="none" stroke="#000" stroke-width="1" />
<!-- 60_bracket.py -->
<path d="M93.8,466.9L103.3,461.8L104.4,462.6L104.4,490.4M93.8,466.9L93.8,489.6" fill="none" stroke="#000" stroke-width="1" />
<path d="M94.8,467.4L94.8,490.1" fill="none" stroke="#000" stroke-width="1" />
<path d="M74.1,444.1L93.8,466" fill="none" stroke="#000" stroke-width="1"/>
<path d="M107.8,493.5A5.1,3.7 0 1 0 97.7,493.5A5.1,3.7 0 1 0 107.8,493.5Z" fill="none" stroke="#000" stroke-width="1.2" shape-rendering="geometricPrecision"/>
<path d="M98.5,494.2C99.4,492.1 101.9,491.3 104.4,492.1M101.1,495.5C101.9,494.2 104.4,494.2 105.3,495.8" fill="none" stroke="#000" stroke-width="1" />
<path d="M91.5,490.4L92.6,492.1L162.6,534.3C166.0,536.3 169.3,536.0 171.9,533.4M91.5,493.5L160.9,535.1C164.3,536.8 167.6,536.8 170.2,536.0" fill="none" stroke="#000" stroke-width="1" />
<path d="M91.5,490.4L91.5,543.5L102.8,550.3L120.4,539.3L125.5,539.3C130.6,542.7 135.6,551.1 140.0,557.9L151.6,578.4L164.3,585.7L171.9,586.5" fill="none" stroke="#000" stroke-width="1" />
<path d="M171.9,512.4L182.0,507.3L183.1,508.1M171.9,512.4L171.9,533.4M173.0,513.2L173.0,532.6" fill="none" stroke="#000" stroke-width="1" />
<path d="M108.6,518.9A3.4,4.7 -10 1 0 102,520A3.4,4.7 -10 1 0 108.6,518.9Z" fill="none" stroke="#000" stroke-width="1.2" shape-rendering="geometricPrecision"/>
<path d="M107,511.5A1.7,2 0 1 0 103.6,511.5A1.7,2 0 1 0 107,511.5Z" fill="none" stroke="#000" stroke-width="1.2" shape-rendering="geometricPrecision"/>
<path d="M123.9,519.5A3.7,4.7 -20 1 0 117,522.1A3.7,4.7 -20 1 0 123.9,519.5Z" fill="none" stroke="#000" stroke-width="1.2" shape-rendering="geometricPrecision"/>
<path d="M122.1,528.4A1.7,2 0 1 0 118.8,528.4A1.7,2 0 1 0 122.1,528.4Z" fill="none" stroke="#000" stroke-width="1.2" shape-rendering="geometricPrecision"/>
<path d="M136.6,526.3A3.7,4.7 -20 1 0 129.6,528.8A3.7,4.7 -20 1 0 136.6,526.3Z" fill="none" stroke="#000" stroke-width="1.2" shape-rendering="geometricPrecision"/>
<path d="M135.3,536.8A1.7,2 0 1 0 131.9,536.8A1.7,2 0 1 0 135.3,536.8Z" fill="none" stroke="#000" stroke-width="1.2" shape-rendering="geometricPrecision"/>
<path d="M152.3,543.2A3.4,5.1 -20 1 0 145.9,545.5A3.4,5.1 -20 1 0 152.3,543.2Z" fill="none" stroke="#000" stroke-width="1.2" shape-rendering="geometricPrecision"/>
<path d="M150.4,536.8A1.7,1.7 0 1 0 147.1,536.8A1.7,1.7 0 1 0 150.4,536.8Z" fill="none" stroke="#000" stroke-width="1.2" shape-rendering="geometricPrecision"/>
<path d="M74.9,536.8L101.9,522.5" fill="none" stroke="#000" stroke-width="1"/>
<path d="M93.5,544.4L93.5,578.1L101.1,574.8M104.5,550.3L104.5,565.5" fill="none" stroke="#000" stroke-width="1" />
<path d="M94.6,545.3L94.6,577.3" fill="none" stroke="#000" stroke-width="1" />
<path d="M108,570.6A6.1,5.7 0 1 0 95.9,570.6A6.1,5.7 0 1 0 108,570.6Z" fill="none" stroke="#000" stroke-width="1.2" shape-rendering="geometricPrecision"/>
<path d="M106.7,571.4A3,3 0 1 0 100.6,571.4A3,3 0 1 0 106.7,571.4Z" fill="none" stroke="#000" stroke-width="1.2" shape-rendering="geometricPrecision"/>
<path d="M96.9,568.0L101.1,565.2L106.2,566.3M96.9,568.0L97.4,573.9L101.1,576.5" fill="none" stroke="#000" stroke-width="1" />
<path d="M26.3,558.7L28.8,555.8L32.6,555.2L36.4,557.0L38.5,562.1L37.7,566.3L33.9,568.4L30.1,568.7L27.2,565.4ZM32.6,555.2C33.9,557.9 34.7,560.4 34.3,563.8L33.9,568.4M36.4,557.0L35.6,560.4L38.5,562.1M32.6,558.7L35.6,560.4" fill="none" stroke="#000" stroke-width="1" />
<path d="M36.9,556.6L49.1,549.4L53.7,547.1L59.6,543.1M39.4,562.1L52.9,554.1L62.1,549.0" fill="none" stroke="#000" stroke-width="1" />
<path d="M59.6,543.1C61.3,542.3 62.8,544.0 62.8,546.5C62.8,548.2 62.6,548.8 62.1,549.0" fill="none" stroke="#000" stroke-width="1" />
<path d="M53.7,547.1C52.4,548.6 52.0,551.1 53.0,553.7M56.2,545.6C55.2,547.1 55.0,549.4 55.8,551.8M58.8,544.0C57.8,545.4 57.5,547.9 58.3,550.3" fill="none" stroke="#000" stroke-width="1" />
<path d="M30.5,526.3L42.8,552" fill="none" stroke="#000" stroke-width="1"/>
<path d="M74.1,538.9A3.4,5.7 -22 1 0 67.9,541.4A3.4,5.7 -22 1 0 74.1,538.9Z" fill="none" stroke="#000" stroke-width="1.2" shape-rendering="geometricPrecision"/>
<path d="M72.5,539.7A1.7,3.4 -22 1 0 69.4,541A1.7,3.4 -22 1 0 72.5,539.7Z" fill="none" stroke="#000" stroke-width="1.2" shape-rendering="geometricPrecision"/>
<path d="M65.5,525L68.9,534.3" fill="none" stroke="#000" stroke-width="1"/>
<path d="M62.1,508.1L65.5,525" fill="none" stroke="#000" stroke-width="1"/>
<path d="M183.8,508.2L183.8,611.0L171.7,616.1L171.7,533.1" fill="none" stroke="#000" stroke-width="1" />
<path d="M167.8,539.4L167.8,585.7" fill="none" stroke="#000" stroke-width="1" />
<path d="M179.7,541.2A2,2.5 30 1 0 176.2,539.2A2,2.5 30 1 0 179.7,541.2Z" fill="none" stroke="#000" stroke-width="1.2" shape-rendering="geometricPrecision"/>
<path d="M179.2,551A2,2 30 1 0 175.7,549A2,2 30 1 0 179.2,551Z" fill="none" stroke="#000" stroke-width="1.2" shape-rendering="geometricPrecision"/>
<path d="M179.7,563.1A2,3 30 1 0 176.2,561.1A2,3 30 1 0 179.7,563.1Z" fill="none" stroke="#000" stroke-width="1.2" shape-rendering="geometricPrecision"/>
<path d="M179.7,575.8A2,2.5 30 1 0 176.2,573.8A2,2.5 30 1 0 179.7,575.8Z" fill="none" stroke="#000" stroke-width="1.2" shape-rendering="geometricPrecision"/>
<path d="M179.2,584.7A2,2 30 1 0 175.7,582.7A2,2 30 1 0 179.2,584.7Z" fill="none" stroke="#000" stroke-width="1.2" shape-rendering="geometricPrecision"/>
<path d="M163.3,551.7L228.5,518.8L209.6,505.7" fill="none" stroke="#000" stroke-width="1" />
<path d="M163.3,551.7L176.2,560.4M180.4,564.2L202.4,578.1" fill="none" stroke="#000" stroke-width="1" />
<path d="M216.7,558.4L209.4,571.4" fill="none" stroke="#000" stroke-width="1"/>
<path d="M208.4,582.2A3.8,5.5 25 1 0 201.5,579A3.8,5.5 25 1 0 208.4,582.2Z" fill="none" stroke="#000" stroke-width="1.2" shape-rendering="geometricPrecision"/>
<path d="M206.6,581.5A1.9,3 25 1 0 203.3,580A1.9,3 25 1 0 206.6,581.5Z" fill="none" stroke="#000" stroke-width="1.2" shape-rendering="geometricPrecision"/>
<path d="M215.6,584.4L230.4,593.2M212.3,589.4L226.2,598.3M215.6,584.4C214.0,583.7 212.3,585.6 212.3,587.8L212.3,589.4" fill="none" stroke="#000" stroke-width="1" />
<path d="M218.2,585.6C216.5,586.9 215.6,589.4 216.5,591.5M221.1,587.8C219.6,588.8 218.8,591.1 219.4,593.2M224.1,589.6C222.6,590.7 221.8,593.2 222.4,595.3M227.0,591.3C225.5,592.4 224.9,594.9 225.3,597.0" fill="none" stroke="#000" stroke-width="1" />
<path d="M226.2,598.3C225.3,600.4 225.8,602.5 227.4,604.2L232.1,606.7L236.7,604.6L238.8,601.2L238.7,596.6L235.4,594.5L230.4,593.2M230.4,593.2C228.7,594.5 227.9,597.9 228.7,601.2C229.1,602.9 230.4,605.4 232.1,606.7M230.4,593.2L231.4,597.0L228.7,601.2M231.4,597.0L238.7,596.6" fill="none" stroke="#000" stroke-width="1" />
<path d="M241.8,577.2L230.8,592" fill="none" stroke="#000" stroke-width="1"/>
<path d="M200.1,499.7L202.6,496.5L238.7,479.9L241.8,480.1L243.7,482.6L243.7,491.7L203.9,512.7L201.4,511.1ZM202.6,500.3L240.6,482.0L243.7,482.6M202.6,500.3L203.7,512.3" fill="none" stroke="#000" stroke-width="1" />
<path d="M196.3,499.7C197.0,496.5 199.5,494.6 202.6,495.3M196.3,499.7L196.6,504.1L199.9,506.0M197.8,497.2L197.8,501.6L200.1,503.1" fill="none" stroke="#000" stroke-width="1" />
<path d="M209.8,504.1A2.8,2.8 0 1 0 204.3,504.1A2.8,2.8 0 1 0 209.8,504.1Z" fill="none" stroke="#000" stroke-width="1.2" shape-rendering="geometricPrecision"/>
<path d="M205.2,503.1C206.4,501.6 209.0,501.9 209.6,503.9" fill="none" stroke="#000" stroke-width="1" />
<path d="M227,496.7A2.4,2.8 20 1 0 222.5,495.1A2.4,2.8 20 1 0 227,496.7Z" fill="none" stroke="#000" stroke-width="1.2" shape-rendering="geometricPrecision"/>
<path d="M240.1,489.7A2.1,2.8 20 1 0 236,488.2A2.1,2.8 20 1 0 240.1,489.7Z" fill="none" stroke="#000" stroke-width="1.2" shape-rendering="geometricPrecision"/>
<path d="M239.3,479.5L251.1,442.2" fill="none" stroke="#000" stroke-width="1"/>
<path d="M256.3,500.5A5.1,5.7 20 1 0 246.8,497.1A5.1,5.7 20 1 0 256.3,500.5Z" fill="none" stroke="#000" stroke-width="1.2" shape-rendering="geometricPrecision"/>
<path d="M253.8,499.6A2.4,3 20 1 0 249.3,498A2.4,3 20 1 0 253.8,499.6Z" fill="none" stroke="#000" stroke-width="1.2" shape-rendering="geometricPrecision"/>
<path d="M255.7,493.4L277.2,460.5" fill="none" stroke="#000" stroke-width="1"/>
<path d="M258.9,507.3L262.1,502.2L268.4,501.6L271.9,506.0L270.9,511.7L265.8,514.5L260.2,512.3ZM262.1,502.2L263.1,505.4M260.2,512.3L262.7,510.4" fill="none" stroke="#000" stroke-width="1" />
<path d="M270.1,508.9A3,3 0 1 0 264.1,508.9A3,3 0 1 0 270.1,508.9Z" fill="none" stroke="#000" stroke-width="1.2" shape-rendering="geometricPrecision"/>
<path d="M270.9,503.9L296.8,482" fill="none" stroke="#000" stroke-width="1"/>
<!-- 70_bottom.py -->
<path d="M265.3,677.8L275.3,673.2C278.4,673.9 280.7,676.3 280.7,679.4L280.7,680.9L270.7,686.3M270.7,676.3C273.0,677.0 274.6,679.4 274.6,683.2M275.3,673.2C277.7,674.7 278.4,677.8 277.7,681.7" fill="none" stroke="#000" stroke-width="1" />
<path d="M248.3,683.2C249.1,679.4 254.5,676.3 259.9,676.6C263.8,677.5 266.8,680.1 267.6,684.0C269.2,685.5 270.7,688.6 269.9,692.5C267.6,696.3 263.8,698.7 259.9,699.4C258.3,698.7 257.6,697.1 257.6,695.6" fill="none" stroke="#000" stroke-width="1" />
<path d="M248.3,683.2C248.3,685.5 249.1,687.9 250.6,688.6M254.5,683.2C257.6,684.8 259.9,688.6 259.6,693.3C259.1,696.3 257.6,697.9 256.0,698.2M259.9,676.6C263.0,679.4 264.5,682.4 263.8,687.1M250.6,680.9C252.5,680.1 253.7,681.7 254.5,683.2" fill="none" stroke="#000" stroke-width="1" />
<path d="M248.3,686.3L234.4,694.0M257.6,695.6L241.3,704.1" fill="none" stroke="#000" stroke-width="1" />
<path d="M217.4,702.5L225.9,696.3L234.4,694.0L237.5,695.6L241.3,704.1L241.3,708.7L232.1,713.3L228.2,714.9M223.6,699.4L228.2,714.9M225.9,696.3L223.6,699.4M237.5,695.6L241.3,708.7M217.4,702.5L218.2,705.6" fill="none" stroke="#000" stroke-width="1" />
<path d="M218.2,705.6C215.1,706.4 209.7,709.5 208.6,713.3C208.1,716.4 209.7,719.5 212.8,719.8C216.6,718.8 221.3,716.4 223.6,714.9M208.6,713.3C209.7,711.0 212.8,710.3 215.1,711.8C216.6,714.1 215.9,718.0 212.8,719.8" fill="none" stroke="#000" stroke-width="1" />
<path d="M213.7,714.9A1.4,2 0 1 0 210.9,714.9A1.4,2 0 1 0 213.7,714.9Z" fill="none" stroke="#000" stroke-width="1.2" shape-rendering="geometricPrecision"/>
<path d="M230.5,714.1L234.4,725.7L239.0,726.5L244.4,722.6L241.3,711.0M232.9,720.3L242.1,716.4" fill="none" stroke="#000" stroke-width="1" />
<path d="M229.3,657L242.1,689.4" fill="none" stroke="#000" stroke-width="1"/>
<path d="M296.3,666.5A4.6,7.4 -22 1 0 287.7,670A4.6,7.4 -22 1 0 296.3,666.5Z" fill="none" stroke="#000" stroke-width="1.2" shape-rendering="geometricPrecision"/>
<path d="M286.5,623L291.6,661.1" fill="none" stroke="#000" stroke-width="1"/>
<path d="M124.6,758.0L174.5,730.2M132.3,768.4L183.0,740.6M124.6,758.0C126.6,759.1 127.4,761.4 127.4,763.8C128.1,766.1 130.4,767.6 132.3,768.4" fill="none" stroke="#000" stroke-width="1" />
<path d="M174.5,730.2C173.4,727.4 174.5,724.4 176.8,722.8L191.5,714.8C195.3,714.3 199.2,717.4 201.5,721.3C203.8,725.1 204.6,729.8 203.1,732.9L187.6,741.3C185.3,742.1 183.8,741.3 183.0,740.6" fill="none" stroke="#000" stroke-width="1" />
<path d="M176.8,722.8L183.0,723.6M185.3,718.2L189.2,720.5L192.2,719.7M195.3,728.2L196.1,732.9M193.8,730.5L198.4,729.8M189.2,734.4L189.9,739.0M181.4,740.6L184.5,739.8M161.3,736.7L163.7,737.5M167.5,744.4L168.3,747.5" fill="none" stroke="#000" stroke-width="1" />
<path d="M236.3,737.5C238.2,734.0 245.9,729.7 255.0,729.0L257.1,733.3L263.5,745.9C262.1,748.7 257.1,752.2 250.1,755.0L245.9,755.7L242.4,752.9L236.3,741.0Z" fill="none" stroke="#000" stroke-width="1" />
<path d="M236.3,737.5C237.5,739.6 239.6,741.0 242.4,741.0M244.5,743.1L248.7,754.3M242.4,747.3L248.0,746.6M253.6,738.9L255.7,747.3M252.9,743.1L257.8,742.4M241.0,734.7C243.1,732.6 247.3,731.2 250.8,731.6" fill="none" stroke="#000" stroke-width="1" />
<path d="M248.7,755.0L279.6,813.3M261.3,750.8L289.4,806.3M279.6,813.3L281.7,811.9L285.2,810.5L289.4,806.3M259.9,773.3L262.1,772.6M267.7,769.1L270.5,768.4" fill="none" stroke="#000" stroke-width="1" />
<path d="M199,867.5L159.2,757.3" fill="none" stroke="#000" stroke-width="1"/>
<path d="M158.5,755.4L166.4,770.6L162.1,772.2Z" fill="#000" stroke="#000" stroke-width="0.5"/>
<path d="M199,867.5L262.6,788.4" fill="none" stroke="#000" stroke-width="1"/>
<path d="M263.9,786.8L255,801.5L251.5,798.6Z" fill="#000" stroke="#000" stroke-width="0.5"/>
<path d="M407.1,657.6A2.8,4.2 -30 1 0 402.3,660.4A2.8,4.2 -30 1 0 407.1,657.6Z" fill="none" stroke="#000" stroke-width="1.2" shape-rendering="geometricPrecision"/>
<path d="M407.5,663.3L425.8,685.7" fill="none" stroke="#000" stroke-width="1"/>
<path d="M388.5,664.7L395.6,662.1C397.7,663.3 398.1,666.1 397.2,667.8L391.3,671.7M392.8,663.3C394.2,664.7 394.4,667.5 393.5,669.6M390.6,664.0C392.1,665.8 392.1,668.2 391.3,670.3" fill="none" stroke="#000" stroke-width="1" />
<path d="M379.8,666.8C381.5,664.7 385.0,664.0 388.5,664.7C390.6,667.5 391.1,671.0 389.9,673.8L387.1,676.6C385.7,677.3 384.3,677.0 382.9,676.6M379.8,666.8C382.2,667.5 385.0,670.3 386.4,674.5L387.1,676.6M382.2,666.1L387.1,672.4M379.8,666.8L379.4,670.3" fill="none" stroke="#000" stroke-width="1" />
<path d="M379.4,670.3C377.3,673.1 375.9,675.9 375.2,678.7L374.5,684.3M382.9,676.6C381.8,678.7 381.2,680.8 380.8,682.9" fill="none" stroke="#000" stroke-width="1" />
<path d="M374.5,684.3C375.2,686.4 378.0,687.1 380.1,685.7L380.8,682.9M374.8,681.5C376.6,682.9 379.4,682.6 381.2,680.8M375.6,678.7C377.0,679.8 379.8,679.8 381.8,678.4" fill="none" stroke="#000" stroke-width="1" />
<path d="M387.8,678L394.9,708.2" fill="none" stroke="#000" stroke-width="1"/>
<path d="M368.9,692.1L375.2,691.1L381.8,694.2L381.8,697.0L379.4,704.7L375.2,706.1L368.9,703.3L367.5,701.2ZM368.9,692.1L372.4,694.9L381.8,694.2M372.4,694.9L371.0,704.0M376.6,694.2L375.2,706.1" fill="none" stroke="#000" stroke-width="1" />
<path d="M368.2,703.3L360.2,739.1M376.2,706.1L367.5,741.9M360.2,739.1L363.3,741.2L367.5,741.9" fill="none" stroke="#000" stroke-width="1" />
<path d="M404.7,787.4L370.8,733.1" fill="none" stroke="#000" stroke-width="1"/>
<path d="M369.7,731.4L380.7,744.6L376.8,747Z" fill="#000" stroke="#000" stroke-width="0.5"/>
<!-- 90_text.py -->
<text class="r" transform="scale(1 1.16)"><tspan class="c" x="492.3" y="11.7">第</tspan><tspan x="508 516.5 525.1 533.6 542.2 550.8 559.3 567.9 576.4 585 593.5 602" y="12.6">H0330-01A0B </tspan><tspan class="c" x="607.9 624.4 640.8" y="11.7">図参照</tspan></text>
<text class="r" transform="scale(1 1.16)" y="26.9" x="490.5 499 507.5 516 524.5 533 541.5 550 558.5 567 575.5 584 592.5 601 609.5 618 626.5 635 643.5">See Fig.H0330-01A0B</text>
<text class="r" transform="scale(1 1.16)"><tspan class="c" x="261.1" y="61.1">第</tspan><tspan x="276.8 285.3 293.9 302.4 311 319.5 328.1 336.6 345.2 353.7 362.3" y="62">H1340-01A0 </tspan><tspan class="c" x="368.2 384.6 401.1" y="61.1">図参照</tspan></text>
<text class="r" transform="scale(1 1.16)" y="77.8" x="259.3 267.8 276.3 284.8 293.3 301.8 310.3 318.8 327.3 335.8 344.3 352.8 361.3 369.8 378.3 386.8 395.3 403.8">See Fig.H1340-01A0</text>
<text class="r" transform="scale(1 1.16)"><tspan class="c" x="1.9" y="202.7">第</tspan><tspan x="17.6 26.2 34.7 43.2 51.8 60.4 68.9 77.5 86 94.6 103.1" y="203.5">N1210-01A0 </tspan><tspan class="c" x="109 125.5 141.9" y="202.7">図参照</tspan></text>
<text class="r" transform="scale(1 1.16)" y="217.1" x="0.1 8.6 17.1 25.6 34.1 42.6 51.1 59.6 68.1 76.6 85.1 93.6 102.1 110.6 119.1 127.6 136.1 144.6">See Fig.N1210-01A0</text>
<text class="r" transform="scale(1 1.16)"><tspan class="c" x="530.3" y="577.9">第</tspan><tspan x="546 554.5 563.1 571.6 580.2 588.8 597.3 605.9 614.4 623 631.5" y="578.8">N1210-01A0 </tspan><tspan class="c" x="637.4 653.9 670.3" y="577.9">図参照</tspan></text>
<text class="r" transform="scale(1 1.16)" y="592.7" x="528.5 537 545.5 554 562.5 571 579.5 588 596.5 605 613.5 622 630.5 639 647.5 656 664.5 673">See Fig.N1210-01A0</text>
<text class="r" transform="scale(1 1.16)"><tspan class="c" x="335.3" y="696.6">第</tspan><tspan x="351 359.6 368.1 376.6 385.2 393.8 402.3 410.9 419.4 427.9 436.5 445.1" y="697.5">H1831-01A0B </tspan><tspan class="c" x="450.9 467.4 483.8" y="696.6">図参照</tspan></text>
<text class="r" transform="scale(1 1.16)" y="711.2" x="333.5 342 350.5 359 367.5 376 384.5 393 401.5 410 418.5 427 435.5 444 452.5 461 469.5 478 486.5">See Fig.H1831-01A0B</text>
<text class="r" transform="scale(1 1.16)"><tspan class="c" x="128.3" y="761.8">第</tspan><tspan x="144 152.6 161.1 169.7 178.2 186.8 195.3 203.9 212.4 220.9 229.5" y="762.7">H0340-01A0 </tspan><tspan class="c" x="235.4 251.8 268.3" y="761.8">図参照</tspan></text>
<text class="r" transform="scale(1 1.16)" y="776.3" x="126.5 135 143.5 152 160.5 169 177.5 186 194.5 203 211.5 220 228.5 237 245.5 254 262.5 271">See Fig.H0340-01A0</text>
<text class="p" transform="scale(1 1.24)" y="770.2" x="640.9 651.7 662.4 673.2 683.9 694.7 705.5">PEB1987</text>
<text transform="translate(610.9 167.8) scale(0.965 1)" class="n" font-size="24" font-weight="bold">11</text>
<text transform="translate(611.6 213.9) scale(0.965 1)" class="n" font-size="24" font-weight="bold">12</text>
<text transform="translate(189.6 231.8) scale(0.965 1)" class="n" font-size="24" font-weight="bold">9</text>
<text transform="translate(174.4 259.6) scale(0.965 1)" class="n" font-size="24" font-weight="bold">10</text>
<text transform="translate(189.4 292.5) scale(0.965 1)" class="n" font-size="24" font-weight="bold">8</text>
<text transform="translate(390.5 299.6) scale(0.965 1)" class="n" font-size="24" font-weight="bold">8</text>
<text transform="translate(360.5 330) scale(0.965 1)" class="n" font-size="24" font-weight="bold">14</text>
<text transform="translate(375.2 473.2) scale(0.965 1)" class="n" font-size="24" font-weight="bold">14</text>
<text transform="translate(337 493.8) scale(0.965 1)" class="n" font-size="24" font-weight="bold">13</text>
<text transform="translate(106.8 344) scale(0.965 1)" class="n" font-size="24" font-weight="bold">21</text>
<text transform="translate(47.5 435.5) scale(0.965 1)" class="n" font-size="24" font-weight="bold">15</text>
<text transform="translate(41.6 497.2) scale(0.965 1)" class="n" font-size="24" font-weight="bold">17</text>
<text transform="translate(7.8 516.8) scale(0.965 1)" class="n" font-size="24" font-weight="bold">16</text>
<text transform="translate(238.8 433.3) scale(0.965 1)" class="n" font-size="24" font-weight="bold">18</text>
<text transform="translate(266.9 453.4) scale(0.965 1)" class="n" font-size="24" font-weight="bold">23</text>
<text transform="translate(296.1 472.5) scale(0.965 1)" class="n" font-size="24" font-weight="bold">22</text>
<text transform="translate(206.3 548) scale(0.965 1)" class="n" font-size="24" font-weight="bold">20</text>
<text transform="translate(235.4 567.8) scale(0.965 1)" class="n" font-size="24" font-weight="bold">19</text>
<text transform="translate(275.4 613.7) scale(0.965 1)" class="n" font-size="24" font-weight="bold">5</text>
<text transform="translate(216.2 647.9) scale(0.965 1)" class="n" font-size="24" font-weight="bold">4</text>
<text transform="translate(428.5 704.8) scale(0.965 1)" class="n" font-size="24" font-weight="bold">7</text>
<text transform="translate(389.7 727.4) scale(0.965 1)" class="n" font-size="24" font-weight="bold">6</text>
<text transform="translate(671.3 324) scale(0.965 1)" class="n" font-size="24" font-weight="bold">2</text>
<text transform="translate(671.6 365.9) scale(0.965 1)" class="n" font-size="24" font-weight="bold">3</text>
<text transform="translate(643.1 456.6) scale(0.965 1)" class="n" font-size="24" font-weight="bold">1</text>
</svg>
</body></html>
